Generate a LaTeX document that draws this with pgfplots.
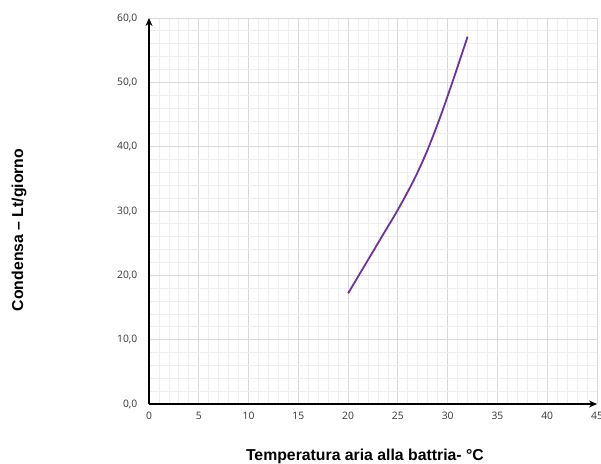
\documentclass[border=0pt]{standalone}
\usepackage{pgfplots}
\pgfplotsset{compat=1.18}
\usepackage{fontspec}
\setmainfont{Liberation Sans}
\newfontfamily\tickfont{Open Sans}
\usetikzlibrary{arrows.meta}
\definecolor{curve}{RGB}{112,48,160}
\definecolor{majgrid}{RGB}{217,217,217}
\definecolor{mingrid}{RGB}{238,238,238}
\begin{document}
\begin{tikzpicture}
\path[use as bounding box] (-149bp,-60bp) rectangle (452bp,404bp);
\begin{axis}[
  scale only axis,
  width=448bp, height=386bp,
  at={(0,0)}, anchor=south west,
  xmin=0, xmax=45,
  ymin=0, ymax=60,
  xtick={0,5,...,45},
  ytick={0,10,...,60},
  minor x tick num=4,
  minor y tick num=4,
  grid=both,
  major grid style={majgrid, line width=0.8bp},
  minor grid style={mingrid, line width=0.8bp},
  axis lines=left,
  axis line style={black, line width=1.6bp, -{Stealth[length=8bp,width=7bp]}},
  tick style={draw=none},
  /pgf/number format/assume math mode=true,
  ticklabel style={font=\tickfont\fontsize{10.3bp}{12bp}\selectfont, text=black!80},
  yticklabel style={xshift=-6bp},
  xticklabel style={yshift=-2bp},
  yticklabel={\pgfmathprintnumber[fixed, fixed zerofill, precision=1, use comma, assume math mode=true]{\tick}},
  xticklabel={\pgfmathprintnumber[fixed, precision=0, assume math mode=true]{\tick}},
  xlabel={\bfseries Temperatura aria alla battria- °C},
  ylabel={\bfseries Condensa – Lt/giorno},
  label style={font=\fontsize{15.8bp}{18bp}\selectfont},
  xlabel style={at={(axis description cs:0.482,-0.137)}, anchor=center},
  ylabel style={at={(axis description cs:-0.29,0.451)}, anchor=center},
  clip=false,
]
\addplot[curve, line width=1.8bp, smooth, tension=0.5] coordinates {
  (20,17.2) (23.5,26.3) (25,30.2) (26.6,34.8) (27.9,39.2) (29.25,44.6) (30.6,50.6) (32,57.1)
};
\end{axis}
\end{tikzpicture}
\end{document}
